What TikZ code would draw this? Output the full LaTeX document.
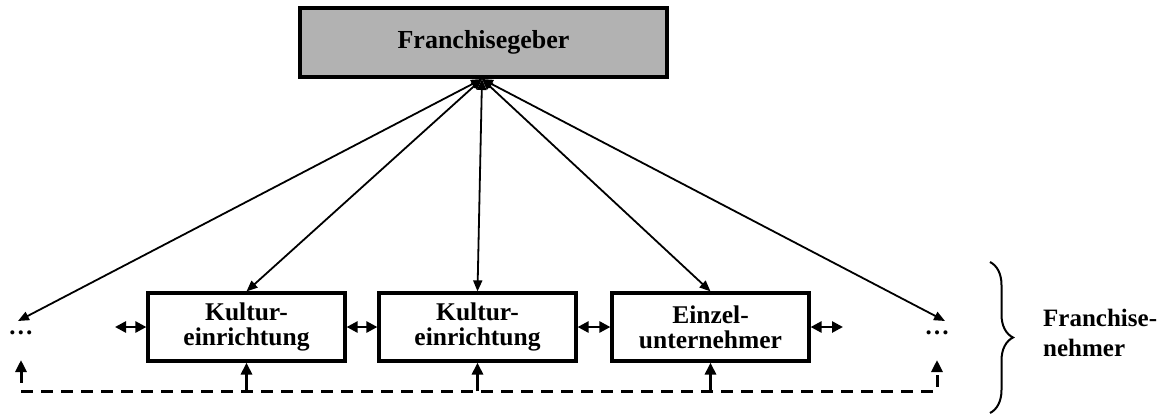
\documentclass[tikz,border=0pt]{standalone}
\usepackage{fontspec}
\setmainfont{Liberation Serif}
\usetikzlibrary{arrows.meta,decorations.pathreplacing}
\tikzset{
  boxstyle/.style={draw=black, line width=3.2pt, minimum width=197pt, minimum height=68pt, inner sep=0pt,
    align=center, font=\fontsize{25.5}{25}\selectfont\bfseries},
  topbox/.style={draw=black, line width=3.2pt, fill=black!30, minimum width=367pt, minimum height=69pt,
    inner sep=0pt, font=\fontsize{26}{26}\selectfont\bfseries},
  ray/.style={line width=1.8pt, {Triangle[length=11pt,width=9pt]}-{Triangle[length=11pt,width=9pt]}},
  link/.style={line width=2.6pt, {Triangle[length=11pt,width=11pt]}-{Triangle[length=11pt,width=11pt]}},
  feed/.style={line width=3pt, -{Triangle[length=12pt,width=11pt]}},
  dashline/.style={line width=3pt, dash pattern=on 12pt off 8pt,
    {Triangle[length=12pt,width=11pt]}-{Triangle[length=12pt,width=11pt]}},
  dotsstyle/.style={inner sep=0pt, font=\fontsize{25}{25}\selectfont\bfseries},
  labelstyle/.style={align=left, anchor=west, inner sep=0pt, font=\fontsize{25}{30}\selectfont\bfseries}
}
\begin{document}
\begin{tikzpicture}[x=1pt,y=-1pt]
\useasboundingbox (0,0) rectangle (1171,416);
% top box
\node[topbox] (geber) at (483.5,42.5) {Franchisegeber};
\coordinate (hub) at (482,79);
% lower boxes
\node[boxstyle] (k1) at (246.5,327) {Kultur-\\einrichtung};
\node[boxstyle] (k2) at (477.5,327) {Kultur-\\einrichtung};
\node[boxstyle] (e3) at (710.5,327) {Einzel-\\unternehmer};
% dots
\node[dotsstyle] (dl) at (21,333) {…};
\node[dotsstyle] (dr) at (937,333) {…};
\coordinate (tl) at (18,321);
\coordinate (tr) at (945,321);
% rays from Franchisegeber
\draw[ray] (hub) -- (tl);
\draw[ray] (hub) -- (k1.north);
\draw[ray] (hub) -- (k2.north);
\draw[ray] (hub) -- (e3.north);
\draw[ray] (hub) -- (tr);
% horizontal links
\coordinate (hl) at (115,327);
\coordinate (hr) at (843,327);
\draw[link] (hl) -- (k1.west);
\draw[link] (k1.east) -- (k2.west);
\draw[link] (k2.east) -- (e3.west);
\draw[link] (e3.east) -- (hr);
% dashed feedback line
\coordinate (al) at (21,360);
\coordinate (bl) at (21,391);
\coordinate (br) at (937,391);
\coordinate (ar) at (937,360);
\draw[dashline] (al) -- (bl) -- (br) -- (ar);
\draw[feed] (k1.south |- bl) -- (k1.south);
\draw[feed] (k2.south |- bl) -- (k2.south);
\draw[feed] (e3.south |- bl) -- (e3.south);
% brace
\coordinate (bt) at (990,262);
\coordinate (bb) at (990,413);
\draw[line width=2pt, decorate, decoration={brace, amplitude=23pt}] (bt) -- (bb);
\node[labelstyle] (fn) at (1043,333) {Franchise-\\nehmer};
\end{tikzpicture}
\end{document}
